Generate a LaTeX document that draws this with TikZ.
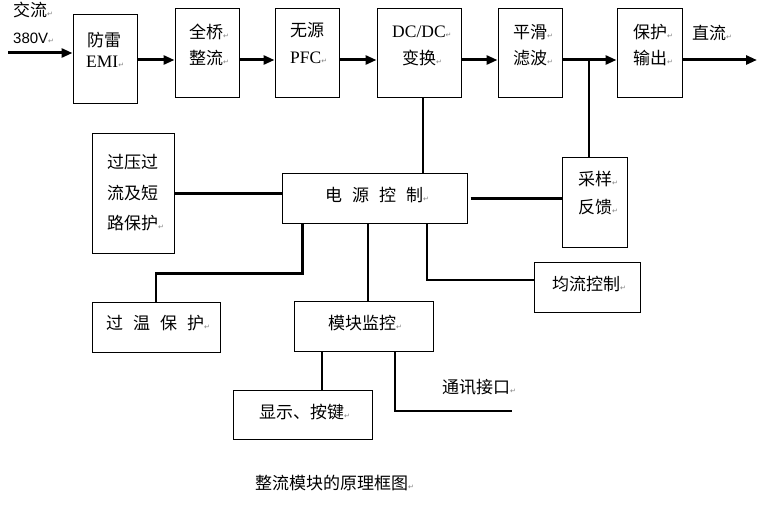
\documentclass[tikz,border=0pt]{standalone}
\usepackage{fontspec}
\setmainfont{Liberation Serif}
\newfontfamily\cjk{Noto Sans CJK SC}
\newfontfamily\dvsans{DejaVu Sans}
\newfontfamily\lsans{Liberation Sans}
\usetikzlibrary{arrows.meta,calc}
\newcommand\retmk{{\dvsans\fontsize{7}{7}\selectfont\textcolor{gray}{↵}}}
\newcommand\gp{\hspace{10pt}}
\begin{document}
\begin{tikzpicture}[x=1pt,y=-1pt,
 box/.style={draw,line width=1pt,inner sep=0pt},
 txt/.style={anchor=west,inner sep=0pt,font=\cjk\fontsize{17}{17}\selectfont},
 lat/.style={anchor=west,inner sep=0pt,font=\fontsize{17.5}{17.5}\selectfont},
 sml/.style={anchor=west,inner sep=0pt,font=\lsans\fontsize{15}{15}\selectfont},
 arr/.style={line width=3pt,-{Triangle[length=11pt,width=9pt]}},
 ln/.style={line width=2.5pt}]
\useasboundingbox (0,0) rectangle (765,505);

% boxes
\node[box,minimum width=64pt,minimum height=89pt] (emi) at (105,59.5) {};
\node[box,minimum width=64pt,minimum height=89pt] (qq) at (207,53.5) {};
\node[box,minimum width=64pt,minimum height=89pt] (pfc) at (307,53.5) {};
\node[box,minimum width=84pt,minimum height=89pt] (dc) at (419,53.5) {};
\node[box,minimum width=64pt,minimum height=89pt] (pw) at (530,53.5) {};
\node[box,minimum width=65pt,minimum height=89pt] (bh) at (649.5,53.5) {};
\node[box,minimum width=82pt,minimum height=119pt] (ov) at (133,193.5) {};
\node[box,minimum width=185pt,minimum height=49pt] (pc) at (374.5,198.5) {};
\node[box,minimum width=65pt,minimum height=89pt] (cy) at (594.5,202.5) {};
\node[box,minimum width=106pt,minimum height=50pt] (jl) at (587,287) {};
\node[box,minimum width=128pt,minimum height=50pt] (ot) at (156,327) {};
\node[box,minimum width=139pt,minimum height=50pt] (mm) at (363.5,326) {};
\node[box,minimum width=139pt,minimum height=49pt] (xs) at (302.5,414.5) {};

% texts
\node[txt] (t1) at (13,10) {交流\retmk};
\node[sml] (t2) at (13,38) {380V\retmk};
\node[txt] (t3) at (87,40) {防雷};
\node[lat] (t4) at (86,62) {EMI\retmk};
\node[txt] (t5) at (189,32) {全桥\retmk};
\node[txt] (t6) at (189,58) {整流\retmk};
\node[txt] (t7) at (290,30) {无源};
\node[lat] (t8) at (290,58) {PFC\retmk};
\node[lat] (t9) at (392,32) {DC/DC\retmk};
\node[txt] (t10) at (402,58) {变换\retmk};
\node[txt] (t11) at (513,32) {平滑\retmk};
\node[txt] (t12) at (513,58) {滤波\retmk};
\node[txt] (t13) at (633,32) {保护\retmk};
\node[txt] (t14) at (633,58) {输出\retmk};
\node[txt] (t15) at (692,33) {直流\retmk};
\node[txt] (t16) at (107,162) {过压过};
\node[txt] (t17) at (107,193) {流及短};
\node[txt] (t18) at (107,223) {路保护\retmk};
\node[txt] (t19) at (325,195) {电\gp 源\gp 控\gp 制\retmk};
\node[txt] (t20) at (578,179) {采样\retmk};
\node[txt] (t21) at (578,207) {反馈\retmk};
\node[txt] (t22) at (552,284) {均流控制\retmk};
\node[txt] (t23) at (106,323) {过\gp 温\gp 保\gp 护\retmk};
\node[txt] (t24) at (328,323) {模块监控\retmk};
\node[txt] (t25) at (259,412) {显示、按键\retmk};
\node[txt] (t26) at (442,387) {通讯接口\retmk};
\node[txt] (t27) at (255,483) {整流模块的原理框图\retmk};

% main chain
\coordinate (in) at (8,53);
\coordinate (bus) at (0,60);
\coordinate (out) at (757,60);
\draw[arr] (in) -- (in -| emi.west);
\draw[arr] (emi.east |- bus) -- (qq.west |- bus);
\draw[arr] (qq.east |- bus) -- (pfc.west |- bus);
\draw[arr] (pfc.east |- bus) -- (dc.west |- bus);
\draw[arr] (dc.east |- bus) -- (pw.west |- bus);
\draw[arr] (pw.east |- bus) -- (bh.west |- bus);
\draw[arr] (bh.east |- bus) -- (out);

% feedback and control
\coordinate (j1) at ([xshift=-5.5pt]cy.north);
\draw[ln] (j1 |- bus) -- (j1);
\coordinate (j2) at ([xshift=4pt]dc.south);
\draw[ln] (j2) -- (j2 |- pc.north);
\draw[ln] (ov.east) -- (ov.east -| pc.west);
\draw[ln] ([xshift=3pt]pc.east) -- (pc.east -| cy.west);
\coordinate (p1) at ([xshift=21pt]pc.south west);
\draw[ln] (p1) -- ++(0,50) -| (ot.north);
\coordinate (p2) at ([xshift=4.5pt]mm.north);
\draw[ln] (p2 |- pc.south) -- (p2);
\coordinate (p3) at ([xshift=52.5pt]pc.south);
\draw[ln] (p3) |- ([yshift=7pt]jl.west);
\coordinate (p4) at ([xshift=19.5pt]xs.north);
\draw[ln] (p4 |- mm.south) -- (p4);
\coordinate (p5) at ([xshift=31.5pt]mm.south);
\coordinate (tx) at (512,411);
\draw[ln] (p5) |- (tx);
\end{tikzpicture}
\end{document}
